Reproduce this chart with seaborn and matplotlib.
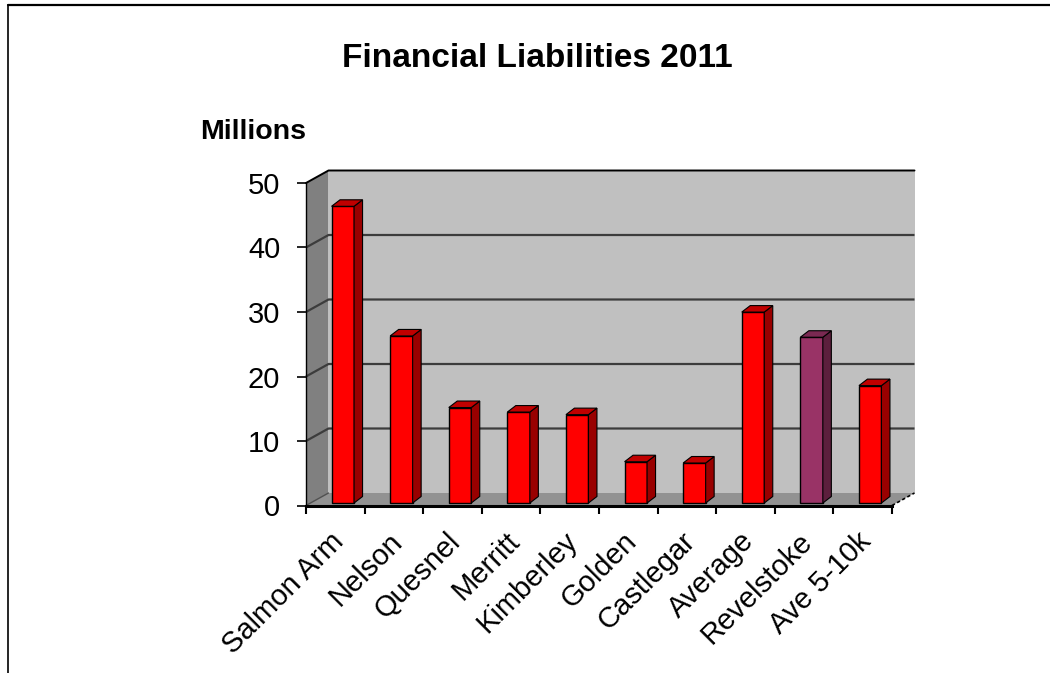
import matplotlib
matplotlib.use("Agg")
import matplotlib.pyplot as plt
import seaborn as sns
import pandas as pd
from matplotlib.patches import Polygon
from matplotlib.lines import Line2D
from matplotlib.transforms import ScaledTranslation

# Financial liabilities by municipality, 2011 (millions of dollars)
towns = ["Salmon Arm", "Nelson", "Quesnel", "Merritt", "Kimberley",
         "Golden", "Castlegar", "Average", "Revelstoke", "Ave 5-10k"]
liabilities = [46.0, 25.9, 14.8, 14.1, 13.7, 6.4, 6.2, 29.6, 25.7, 18.2]
y_ticks = [0, 10, 20, 30, 40, 50]
highlight = "Revelstoke"

# face colours: front / side / top
front_main, side_main, top_main = "#FF0000", "#990000", "#C00000"
front_hi, side_hi, top_hi = "#993366", "#5C1F3D", "#7A2952"

df = pd.DataFrame({"town": towns, "value": liabilities})
palette = {t: (front_hi if t == highlight else front_main) for t in towns}

sns.set_theme(style="white")
plt.rcParams["font.family"] = ["Liberation Sans", "DejaVu Sans"]

fig = plt.figure(figsize=(10.5, 6.73), dpi=100)
ax = fig.add_axes([306 / 1050, 1 - 505.5 / 673, 586 / 1050, (505.5 - 183) / 673])
ax.set_facecolor("none")

sns.barplot(data=df, x="town", y="value", hue="town", palette=palette,
            width=0.384, legend=False, edgecolor="black", linewidth=1.0,
            saturation=1, ax=ax, zorder=3)
bars = list(ax.patches)

n = len(towns)
ax.set_xlim(-0.5, n - 0.5)
ax.set_ylim(0, 50)

# pixel offsets -> data offsets for the oblique depth
px_x = 586 / n
px_y = (505.5 - 183) / 50.0
def depth(dx_px, dy_px):
    return dx_px / px_x, dy_px / px_y

wdx, wdy = depth(22.5, 12.5)      # wall depth
sdx, sdy = depth(7.5, 2.5)        # bar placement inside the depth
bdx, bdy = depth(8.5, 6.5)        # bar depth
x0, x1 = -0.5, n - 0.5
ytop = y_ticks[-1]

# side wall, back wall and floor
ax.add_patch(Polygon([(x0, 0), (x0, ytop), (x0 + wdx, ytop + wdy), (x0 + wdx, wdy)],
                     closed=True, facecolor="#808080", edgecolor="none",
                     zorder=0.5, clip_on=False))
ax.add_patch(Polygon([(x0 + wdx, wdy), (x0 + wdx, ytop + wdy), (x1 + wdx, ytop + wdy),
                      (x1 + wdx, wdy)], closed=True, facecolor="#C0C0C0",
                     edgecolor="none", zorder=0.5, clip_on=False))
ax.add_patch(Polygon([(x0, 0), (x1, 0), (x1 + wdx, wdy), (x0 + wdx, wdy)],
                     closed=True, facecolor="#929292", edgecolor="none",
                     zorder=0.6, clip_on=False))

# gridlines on walls
for v in y_ticks[1:-1]:
    ax.plot([x0, x0 + wdx, x1 + wdx], [v, v + wdy, v + wdy], color="#3C3C3C",
            lw=1.6, zorder=1, clip_on=False, solid_capstyle="butt")
ax.plot([x0, x0 + wdx, x1 + wdx], [ytop, ytop + wdy, ytop + wdy], color="black",
        lw=1.4, zorder=1, clip_on=False)
ax.plot([x1, x1 + wdx], [0, wdy], color="black", lw=1.2, ls=(0, (2, 1.5)),
        zorder=1, clip_on=False)
ax.plot([x0, x0 + wdx], [0, wdy], color="#505050", lw=1.0, zorder=1, clip_on=False)

# 3D faces for each bar
for p in bars:
    bx, bw, bh = p.get_x(), p.get_width(), p.get_height()
    is_hi = abs(bx + bw / 2 - towns.index(highlight)) < 0.01
    side_c = side_hi if is_hi else side_main
    top_c = top_hi if is_hi else top_main
    fx, fy = bx + sdx, sdy
    p.set_x(fx)
    p.set_y(fy)
    p.set_clip_on(False)
    ax.add_patch(Polygon([(fx + bw, fy), (fx + bw + bdx, fy + bdy),
                          (fx + bw + bdx, fy + bh + bdy), (fx + bw, fy + bh)],
                         closed=True, facecolor=side_c, edgecolor="black",
                         lw=0.8, zorder=3, clip_on=False))
    ax.add_patch(Polygon([(fx, fy + bh), (fx + bdx, fy + bh + bdy),
                          (fx + bw + bdx, fy + bh + bdy), (fx + bw, fy + bh)],
                         closed=True, facecolor=top_c, edgecolor="black",
                         lw=0.8, zorder=3, clip_on=False))

# axes styling
for s in ["top", "right"]:
    ax.spines[s].set_visible(False)
ax.spines["left"].set_color("black")
ax.spines["left"].set_linewidth(1.0)
ax.spines["bottom"].set_color("black")
ax.spines["bottom"].set_linewidth(2.2)
ax.spines["left"].set_zorder(4)
ax.spines["bottom"].set_zorder(4)

ax.set_yticks(y_ticks)
ax.set_yticklabels([str(v) for v in y_ticks])
ax.tick_params(axis="y", direction="out", length=6.5, width=1.2, color="black",
               pad=12, labelsize=21, labelcolor="black", left=True)

ax.set_xticks(range(n))
ax.set_xticks([i - 0.5 for i in range(n + 1)], minor=True)
ax.set_xticklabels(towns, rotation=45, ha="right", va="top", rotation_mode="anchor")
ax.tick_params(axis="x", which="major", length=0, pad=15.5, labelsize=21,
               labelcolor="black")
ax.tick_params(axis="x", which="minor", direction="out", length=6, width=1.5,
               color="black", bottom=True)
shift = ScaledTranslation(-6 / 100, 0, fig.dpi_scale_trans)
for lbl in ax.get_xticklabels():
    lbl.set_transform(lbl.get_transform() + shift)
ax.set_xlabel("")
ax.set_ylabel("")
ax.grid(False)

# titles
fig.text(537.5 / 1050, 1 - 67 / 673, "Financial Liabilities 2011", fontsize=24,
         fontweight="bold", ha="center", va="baseline", color="black")
fig.text(200 / 1050, 1 - 139 / 673, "Millions", fontsize=20.5, fontweight="bold",
         ha="left", va="baseline", color="black")

# frame lines along the top and left edges
fig.add_artist(Line2D([8 / 1050, 1], [1 - 5 / 673] * 2, transform=fig.transFigure,
                      color="black", lw=1.6))
fig.add_artist(Line2D([8 / 1050] * 2, [0, 1 - 5 / 673], transform=fig.transFigure,
                      color="black", lw=1.2))

fig.savefig("out.png", dpi=100)
